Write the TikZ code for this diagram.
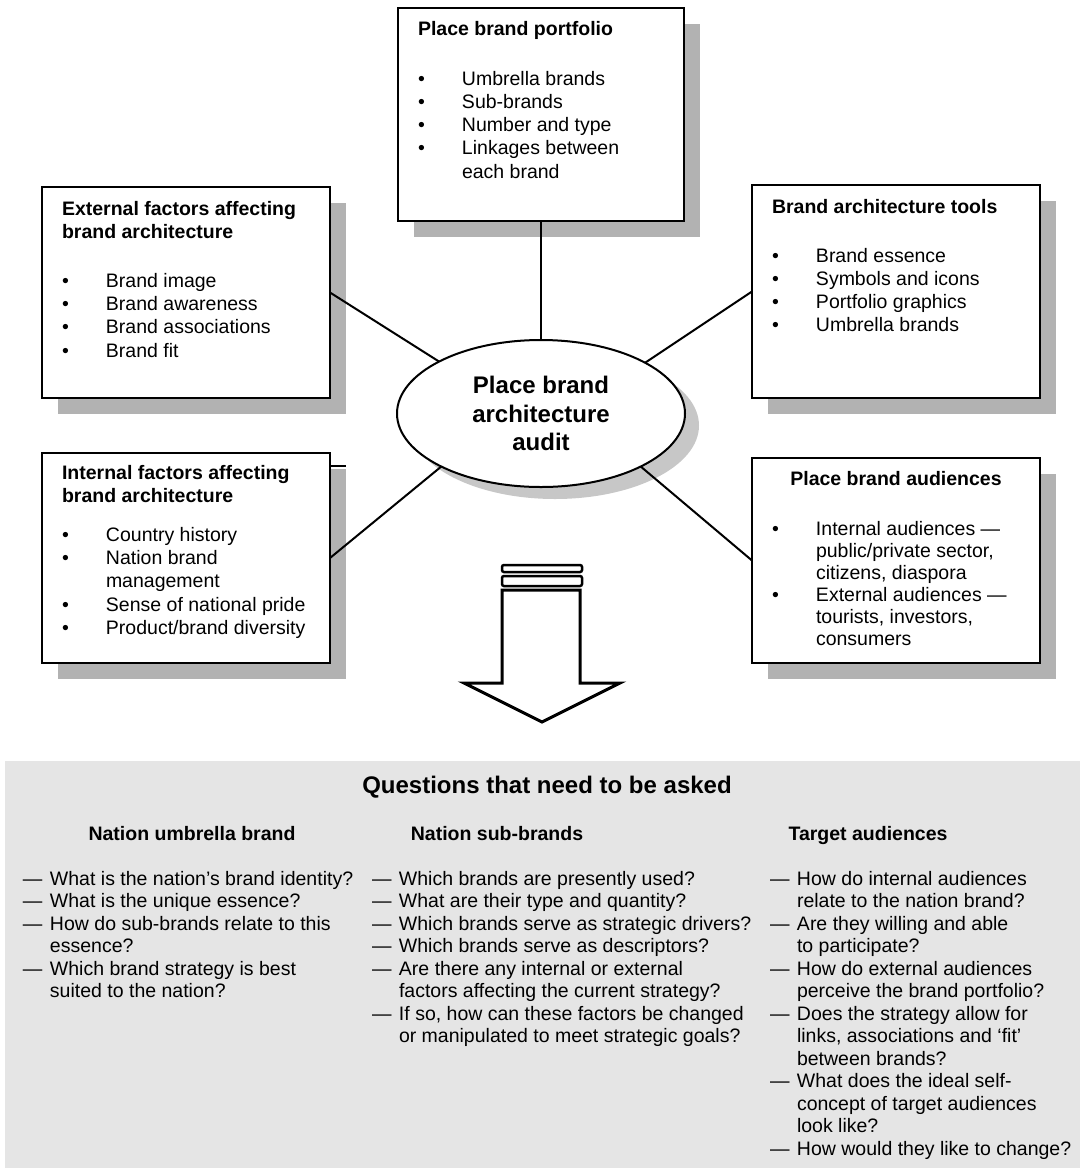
\documentclass[tikz,border=0pt]{standalone}
\usepackage{fontspec}
\setmainfont{Liberation Sans}
\usetikzlibrary{shapes.geometric,calc}
\pgfdeclarelayer{shadowlayer}
\pgfdeclarelayer{linelayer}
\pgfsetlayers{shadowlayer,linelayer,main}
\definecolor{shadowgrey}{gray}{0.70}
\definecolor{ellshadow}{gray}{0.78}
\definecolor{panelgrey}{gray}{0.90}
\newcommand{\bitem}[1]{\makebox[44pt][l]{\textbullet}#1}
\newcommand{\bcont}[1]{\hspace*{44pt}#1}
\newcommand{\qitem}[1]{\makebox[27pt][l]{—}#1}
\newcommand{\qcont}[1]{\hspace*{27pt}#1}
\newcommand{\firstln}{\rule{0pt}{20pt}}
\begin{document}
\begin{tikzpicture}[x=1pt,y=-1pt,
  every node/.style={inner sep=0pt,outer sep=0pt},
  box/.style={draw,line width=2pt,fill=white,anchor=north west,minimum width=288pt},
  btxt/.style={anchor=north west,align=left,font=\fontsize{19.5pt}{23.3pt}\selectfont},
  qtxt/.style={anchor=north west,align=left,font=\fontsize{19.5pt}{22.5pt}\selectfont},
  qhead/.style={anchor=base,font=\bfseries\fontsize{19.5pt}{23pt}\selectfont},
  conn/.style={line width=2pt},
  shad/.style={fill=shadowgrey}]
\useasboundingbox (0,0) rectangle (1080,1168);

% bottom panel
\fill[panelgrey] (5,761) rectangle (1080,1168);

% boxes
\node[box,minimum width=286pt,minimum height=213pt] (port) at (398,8) {};
\node[box,minimum height=211pt] (ext) at (42,187) {};
\node[box,minimum height=213pt] (tools) at (752,185) {};
\node[box,minimum height=210pt] (int) at (42,453) {};
\node[box,minimum height=205pt] (aud) at (752,458) {};

% central ellipse
\node[ellipse,draw,line width=2pt,fill=white,minimum width=288pt,minimum height=147pt,
      align=center,font=\bfseries\fontsize{24pt}{28.5pt}\selectfont] (ell) at (541,413.5)
      {Place brand\\architecture\\audit};

% shadows
\begin{pgfonlayer}{shadowlayer}
\foreach \b in {port,ext,tools,int,aud}{
  \fill[shad] ($(\b.north west)+(15.5,15.5)$) rectangle ($(\b.south east)+(15.5,15.5)$);
}
\fill[ellshadow] ($(ell.center)+(14,12)$) ellipse [x radius=144pt, y radius=73.5pt];
\end{pgfonlayer}
\draw[line width=1.5pt] (330,466) -- (346,466);

% connectors
\begin{pgfonlayer}{linelayer}
\draw[conn] (port.south) -- (ell.north);
\draw[conn] (ext.east) -- (ell.153.5);
\draw[conn] (tools.west) -- (ell.26);
\draw[conn] (int.east) -- (ell.208);
\draw[conn] (aud.west) -- (ell.332);
\end{pgfonlayer}

% box texts
\node[btxt] (portT) at (418,15) {\firstln\textbf{Place brand portfolio}\\[26.7pt]
  \bitem{Umbrella brands}\\ \bitem{Sub-brands}\\ \bitem{Number and type}\\
  \bitem{Linkages between}\\ \bcont{each brand}};
\node[btxt] (extT) at (62,195) {\firstln\textbf{External factors affecting}\\ \textbf{brand architecture}\\[25.7pt]
  \bitem{Brand image}\\ \bitem{Brand awareness}\\ \bitem{Brand associations}\\ \bitem{Brand fit}};
\node[btxt] (toolsT) at (772,193) {\firstln\textbf{Brand architecture tools}\\[25.7pt]
  \bitem{Brand essence}\\ \bitem{Symbols and icons}\\ \bitem{Portfolio graphics}\\ \bitem{Umbrella brands}};
\node[btxt] (intT) at (62,459) {\firstln\textbf{Internal factors affecting}\\ \textbf{brand architecture}\\[15.7pt]
  \bitem{Country history}\\ \bitem{Nation brand}\\ \bcont{management}\\
  \bitem{Sense of national pride}\\ \bitem{Product/brand diversity}};
\node[btxt,font=\fontsize{19.5pt}{22pt}\selectfont] (audT) at (772,465) {\firstln\makebox[248pt][c]{\textbf{Place brand audiences}}\\[28pt]
  \bitem{Internal audiences —}\\ \bcont{public/private sector,}\\ \bcont{citizens, diaspora}\\
  \bitem{External audiences —}\\ \bcont{tourists, investors,}\\ \bcont{consumers}};

% down arrow
\draw[line width=2.5pt,rounded corners=2pt] (502,565) rectangle (582,572);
\draw[line width=2.5pt,rounded corners=2pt] (502,576) rectangle (582,586);
\draw[line width=3pt,line join=miter] (502,590) -- (580,590) -- (580,683) -- (620,683)
   -- (542,722) -- (464,683) -- (502,683) -- cycle;

% questions
\node[anchor=base,font=\bfseries\fontsize{24pt}{28pt}\selectfont] (qtitle) at (547,793) {Questions that need to be asked};
\node[qhead] (h1) at (192,840) {Nation umbrella brand};
\node[qhead] (h2) at (497,840) {Nation sub-brands};
\node[qhead] (h3) at (868,840) {Target audiences};

\node[qtxt] (c1) at (23,865) {\firstln\qitem{What is the nation’s brand identity?}\\
  \qitem{What is the unique essence?}\\
  \qitem{How do sub-brands relate to this}\\ \qcont{essence?}\\
  \qitem{Which brand strategy is best}\\ \qcont{suited to the nation?}};
\node[qtxt] (c2) at (372,865) {\firstln\qitem{Which brands are presently used?}\\
  \qitem{What are their type and quantity?}\\
  \qitem{Which brands serve as strategic drivers?}\\
  \qitem{Which brands serve as descriptors?}\\
  \qitem{Are there any internal or external}\\ \qcont{factors affecting the current strategy?}\\
  \qitem{If so, how can these factors be changed}\\ \qcont{or manipulated to meet strategic goals?}};
\node[qtxt] (c3) at (770,865) {\firstln\qitem{How do internal audiences}\\ \qcont{relate to the nation brand?}\\
  \qitem{Are they willing and able}\\ \qcont{to participate?}\\
  \qitem{How do external audiences}\\ \qcont{perceive the brand portfolio?}\\
  \qitem{Does the strategy allow for}\\ \qcont{links, associations and ‘fit’}\\ \qcont{between brands?}\\
  \qitem{What does the ideal self-}\\ \qcont{concept of target audiences}\\ \qcont{look like?}\\
  \qitem{How would they like to change?}};
\end{tikzpicture}
\end{document}
